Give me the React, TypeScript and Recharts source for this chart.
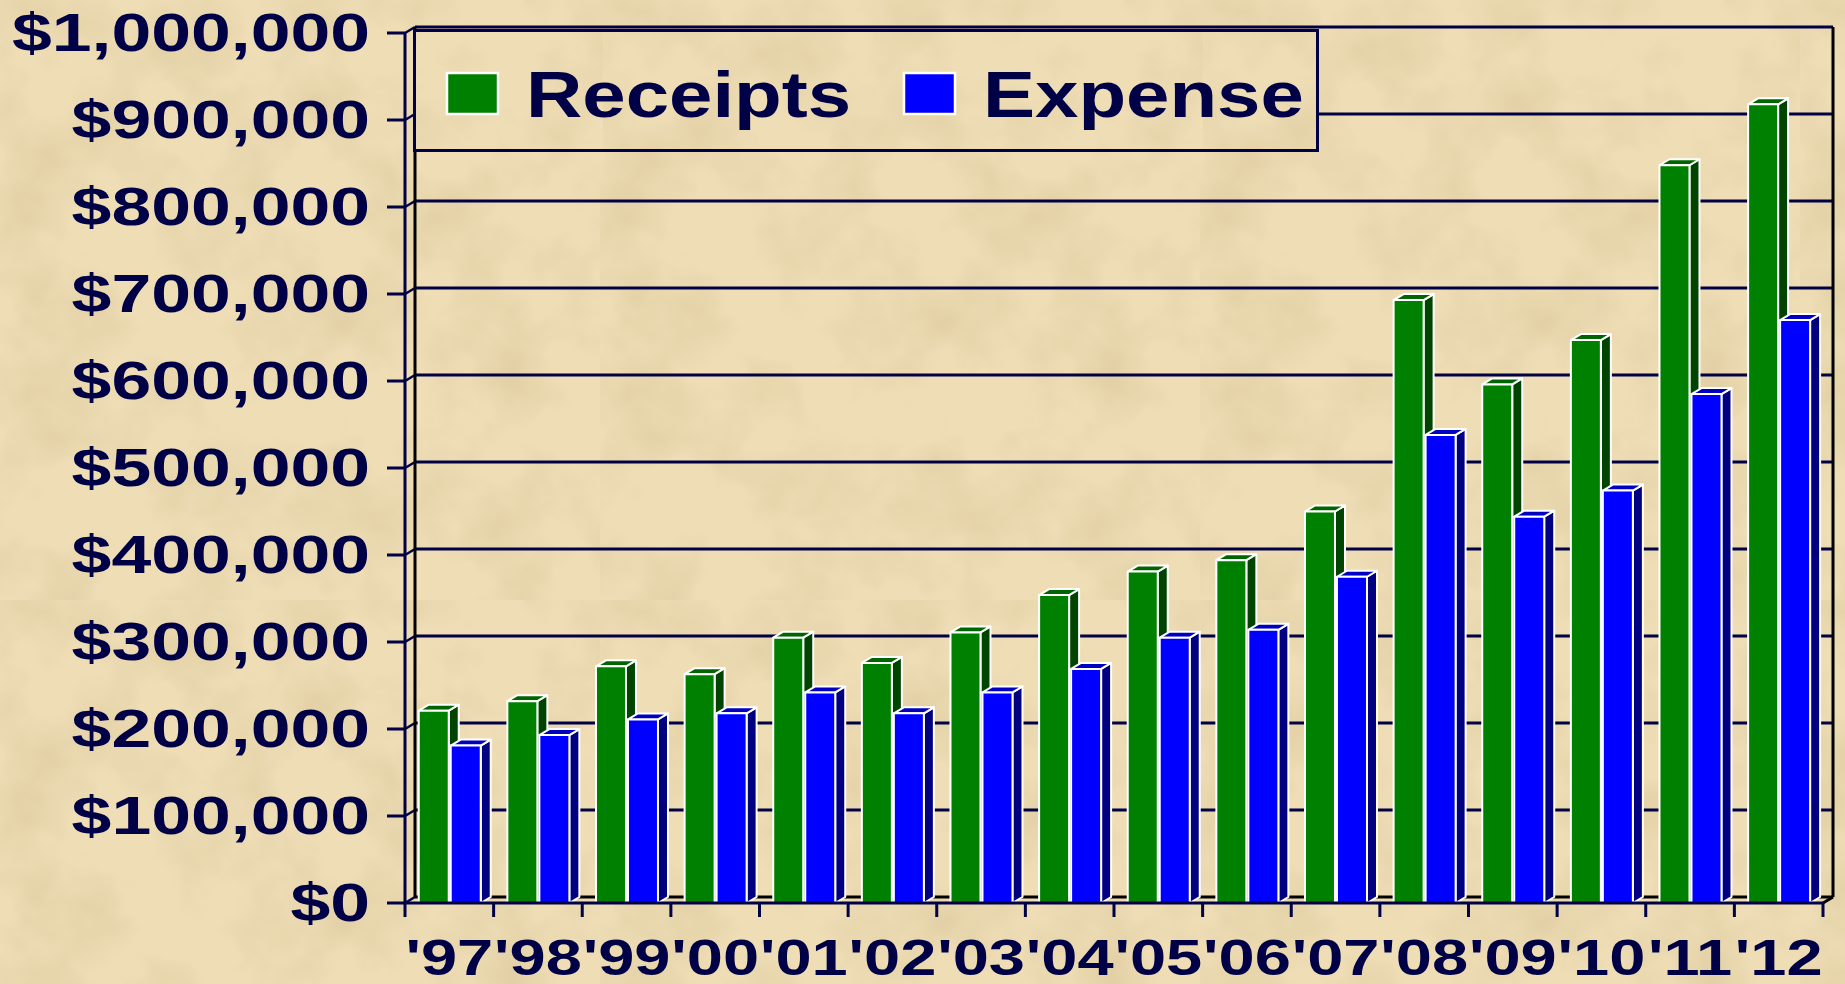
import { BarChart, Bar, XAxis, YAxis, CartesianGrid, Legend } from "recharts";

// values (US$)
const years = ["'97", "'98", "'99", "'00", "'01", "'02", "'03", "'04", "'05", "'06", "'07", "'08", "'09", "'10", "'11", "'12"];
const receipts = [221000, 232000, 272000, 263000, 305000, 276000, 311000, 354000, 381000, 394000, 450000, 693000, 596000, 647000, 848000, 918000];
const expense = [181000, 193000, 211000, 218000, 242000, 218000, 242000, 269000, 305000, 314000, 375000, 538000, 444000, 474000, 585000, 670000];
const yTicks = [0, 100000, 200000, 300000, 400000, 500000, 600000, 700000, 800000, 900000, 1000000];
const seriesOrder = ["receipts", "expense"];

const data = years.map((year, i) => ({ year, receipts: receipts[i], expense: expense[i] }));

const W = 1845;
const H = 984;
const AXIS_Y = 903;
const INK = "#000046";
const FONT = "'Liberation Sans', Arial, Helvetica, sans-serif";
const DX = 10;
const DY = 6;

const texture =
  "url(\"data:image/svg+xml;utf8,<svg xmlns='http://www.w3.org/2000/svg' width='600' height='600'>" +
  "<filter id='n'><feTurbulence type='fractalNoise' baseFrequency='0.011' numOctaves='4' seed='7'/>" +
  "<feColorMatrix values='0 0 0 0 0.62  0 0 0 0 0.48  0 0 0 0 0.26  0.9 0 0 0 -0.38'/></filter>" +
  "<rect width='100%' height='100%' fill='%23EEDDB5'/><rect width='100%' height='100%' filter='url(%23n)'/></svg>\")";

function Bar3D(props: any) {
  const { x, y, width: w, height: h, fill, side, top } = props;
  if (w == null || h == null || h <= 0) return null;
  const stroke = { stroke: "#fff", strokeWidth: 2, strokeLinejoin: "round" as const };
  return (
    <g>
      <polygon
        points={`${x + w},${y} ${x + w + DX},${y - DY} ${x + w + DX},${y + h - DY} ${x + w},${y + h}`}
        fill={side}
        {...stroke}
      />
      <polygon
        points={`${x},${y} ${x + DX},${y - DY} ${x + w + DX},${y - DY} ${x + w},${y}`}
        fill={top}
        {...stroke}
      />
      <rect x={x} y={y} width={w} height={h} fill={fill} {...stroke} />
    </g>
  );
}

function YTick({ x, y, payload }: any) {
  return (
    <g transform={`translate(${x},${y}) scale(1.35,1)`}>
      <text x={0} y={0} dy={18} textAnchor="end" fill={INK} fontSize={53} fontWeight="bold" fontFamily={FONT}>
        {"$" + Number(payload.value).toLocaleString("en-US")}
      </text>
    </g>
  );
}

function XTick({ x, payload, index }: any) {
  const half = payload.offset || 44.3;
  return (
    <g>
      <line x1={x - half} x2={x - half} y1={AXIS_Y} y2={AXIS_Y + 14} stroke={INK} strokeWidth={3} />
      {index === years.length - 1 && (
        <line x1={x + half} x2={x + half} y1={AXIS_Y} y2={AXIS_Y + 14} stroke={INK} strokeWidth={3} />
      )}
      <g transform={`translate(${x},975) scale(1.3,1)`}>
        <text x={0} y={0} textAnchor="middle" fill={INK} fontSize={50} fontWeight="bold" fontFamily={FONT}>
          {payload.value}
        </text>
      </g>
    </g>
  );
}

// back wall grid lines, shifted for the 3D look
const HLine = (p: any) => {
  const { x1, x2, y1 } = p;
  const floor = Math.abs(y1 - AXIS_Y) < 1;
  return (
    <g key={p.key}>
      <line x1={x1} y1={y1} x2={x1 + DX} y2={y1 - DY} stroke={INK} strokeWidth={2.5} />
      <line x1={x1 + DX} y1={y1 - DY} x2={x2 + DX} y2={y1 - DY} stroke={floor ? "#000" : INK} strokeWidth={3} />
      {floor && <line x1={x2} y1={y1} x2={x2 + DX} y2={y1 - DY} stroke="#000" strokeWidth={3} />}
    </g>
  );
};

const VLine = (p: any) => (
  <line key={p.key} x1={p.x1 + DX} y1={p.y1 - DY} x2={p.x2 + DX} y2={p.y2 - DY} stroke="#000" strokeWidth={3} />
);

function renderLegend(props: any) {
  const items = [...(props.payload || [])].sort(
    (a: any, b: any) => seriesOrder.indexOf(a.dataKey) - seriesOrder.indexOf(b.dataKey)
  );
  return (
    <div
      style={{
        width: 906,
        height: 123,
        boxSizing: "border-box",
        border: `3px solid ${INK}`,
        backgroundImage: texture,
        backgroundPosition: "-413px -29px",
      }}
    >
      <svg width={900} height={117} style={{ display: "block" }}>
        {items.map((it: any, i: number) => (
          <g key={it.value} transform={`translate(${31 + i * 457},0)`}>
            <rect x={0} y={41} width={51} height={41} fill={it.color} stroke="#fff" strokeWidth={2.5} />
            <g transform="translate(79,85) scale(1.2,1)">
              <text x={0} y={0} fill={INK} fontSize={65} fontWeight="bold" fontFamily={FONT}>
                {it.value}
              </text>
            </g>
          </g>
        ))}
      </svg>
    </div>
  );
}

export default function App() {
  return (
    <div
      style={{
        position: "fixed",
        left: 0,
        top: 0,
        width: W,
        height: H,
        backgroundImage: texture,
      }}
    >
      <BarChart
        width={W}
        height={H}
        data={data}
        margin={{ top: 33, right: 22, bottom: 0, left: 0 }}
        barCategoryGap="15.5%"
        barGap={2}
      >
        <CartesianGrid
          horizontal={HLine}
          vertical={VLine}
          verticalCoordinatesGenerator={({ offset }: any) => [offset.left, offset.left + offset.width]}
        />
        <XAxis
          dataKey="year"
          height={81}
          interval={0}
          tickLine={false}
          axisLine={{ stroke: INK, strokeWidth: 3 }}
          tick={<XTick />}
        />
        <YAxis
          domain={[0, 1000000]}
          ticks={yTicks}
          interval={0}
          width={405}
          tickSize={18}
          tickMargin={17}
          axisLine={{ stroke: INK, strokeWidth: 3 }}
          tickLine={{ stroke: INK, strokeWidth: 3 }}
          tick={<YTick />}
        />
        <Legend
          layout="horizontal"
          verticalAlign="middle"
          align="center"
          wrapperStyle={{ top: 29, left: 413, width: 906, height: 123 }}
          content={renderLegend}
        />
        <Bar
          dataKey="receipts"
          name="Receipts"
          fill="#008000"
          isAnimationActive={false}
          shape={(p: any) => <Bar3D {...p} side="#004400" top="#006400" />}
        />
        <Bar
          dataKey="expense"
          name="Expense"
          fill="#0000FF"
          isAnimationActive={false}
          shape={(p: any) => <Bar3D {...p} side="#000080" top="#0000C0" />}
        />
      </BarChart>
    </div>
  );
}
